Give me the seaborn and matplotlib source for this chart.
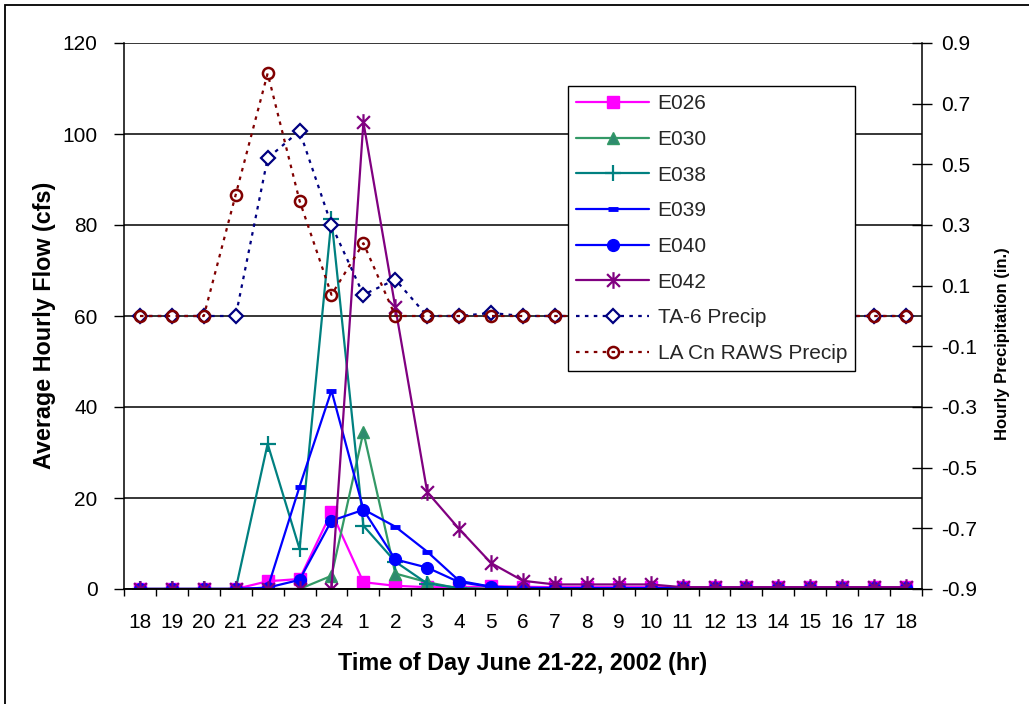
import numpy as np
import matplotlib
matplotlib.use("Agg")
import matplotlib.pyplot as plt
import seaborn as sns
from matplotlib.patches import Rectangle
from matplotlib.path import Path

hours = ["18", "19", "20", "21", "22", "23", "24", "1", "2", "3", "4", "5", "6",
         "7", "8", "9", "10", "11", "12", "13", "14", "15", "16", "17", "18"]

E026 = [0, 0, 0, 0, 1.7, 2.2, 16.9, 1.5, 0.7, 0.4, 0.4, 0.6, 0.5, 0.4, 0.4, 0.4,
        0.4, 0.4, 0.4, 0.4, 0.4, 0.4, 0.4, 0.4, 0.4]
E030 = [0, 0, 0, 0, 0, 0, 2.9, 34.5, 3.4, 1.5, 0.1, 0, 0, 0, 0, 0, 0, 0, 0, 0,
        0, 0, 0, 0, 0]
E038 = [0, 0, 0, 0, 31.9, 8.8, 81.3, 13.9, 6.0, 1.2, 0.2, 0, 0, 0, 0, 0, 0, 0,
        0, 0, 0, 0, 0, 0, 0]
E039 = [0, 0, 0, 0, 0.2, 22.5, 43.6, 17.5, 13.7, 8.2, 1.8, 0.5, 0.2, 0.2, 0.2,
        0.2, 0.2, 0.2, 0.2, 0.2, 0.2, 0.2, 0.2, 0.2, 0.2]
E040 = [0, 0, 0, 0, 0.3, 2.0, 15.0, 17.4, 6.5, 4.7, 1.5, 0.5, 0.3, 0.2, 0.2, 0.2,
        0.2, 0.2, 0.2, 0.2, 0.2, 0.2, 0.2, 0.2, 0.2]
E042 = [0, 0, 0, 0, 0, 0, 0, 102.6, 61.9, 21.3, 13.2, 5.7, 1.8, 1.0, 1.0, 1.0,
        1.0, 0.4, 0.4, 0.4, 0.4, 0.4, 0.4, 0.4, 0.4]
TA6 = [0, 0, 0, 0, 0.52, 0.61, 0.30, 0.07, 0.12, 0, 0, 0.01, 0, 0, 0, 0, 0, 0,
       0, 0, 0, 0, 0, 0, 0]
LACN = [0, 0, 0, 0.40, 0.80, 0.38, 0.07, 0.24, 0, 0, 0, 0, 0, 0, 0, 0, 0, 0,
        0, 0, 0, 0, 0, 0, 0]

left_ticks = [0, 20, 40, 60, 80, 100, 120]
right_ticks = [-0.9, -0.7, -0.5, -0.3, -0.1, 0.1, 0.3, 0.5, 0.7, 0.9]

sns.set_theme(style="white")
plt.rcParams["font.family"] = ["Liberation Sans", "DejaVu Sans"]

# Excel-style star marker: an "x" with a vertical bar
star_marker = Path([(-1, -1), (1, 1), (-1, 1), (1, -1), (0, -1.3), (0, 1.3)],
                   [Path.MOVETO, Path.LINETO, Path.MOVETO, Path.LINETO,
                    Path.MOVETO, Path.LINETO])

W, H = 1029, 704
fig = plt.figure(figsize=(W / 100, H / 100), dpi=100)
fig.patch.set_facecolor("white")
ax = fig.add_axes([124 / W, 1 - 589 / H, (922 - 124) / W, (589 - 43) / H])
ax2 = ax.twinx()

x = np.arange(len(hours))

flow_styles = [
    ("E026", E026, dict(color="#FF00FF", marker="s", markersize=8,
                        markeredgecolor="#FF00FF", markeredgewidth=1)),
    ("E030", E030, dict(color="#339966", marker="^", markersize=9,
                        markerfacecolor="#2E8B6E", markeredgecolor="#339966",
                        markeredgewidth=1)),
    ("E038", E038, dict(color="#008080", marker="+", markersize=11,
                        markeredgecolor="#008080", markeredgewidth=1.6)),
    ("E039", E039, dict(color="#0000FF", marker="_", markersize=7,
                        markeredgecolor="#0000FF", markeredgewidth=3.5)),
    ("E040", E040, dict(color="#0000FF", marker="o", markersize=8.5,
                        markeredgecolor="#0000FF", markeredgewidth=1)),
    ("E042", E042, dict(color="#800080", marker=star_marker, markersize=12,
                        markeredgecolor="#800080", markeredgewidth=1.6)),
]

for name, vals, kw in flow_styles:
    sns.lineplot(x=x, y=vals, ax=ax, sort=False, legend=False, linewidth=1.6,
                 label=name, **kw)

precip_styles = [
    ("TA-6 Precip", TA6, dict(color="#000080", marker="D", markersize=7,
                              markerfacecolor="white", markeredgecolor="#000080",
                              markeredgewidth=1.6)),
    ("LA Cn RAWS Precip", LACN, dict(color="#800000", marker="o", markersize=8,
                                     markerfacecolor="none",
                                     markeredgecolor="#800000",
                                     markeredgewidth=1.8)),
]
for name, vals, kw in precip_styles:
    sns.lineplot(x=x, y=vals, ax=ax2, sort=False, legend=False, linewidth=1.6,
                 label=name, **kw)
for ln in ax2.get_lines():
    ln.set_linestyle((0, (1.6, 2.4)))

# axes limits / ticks
ax.set_xlim(-0.5, len(hours) - 0.5)
ax.set_ylim(0, 120)
ax2.set_ylim(-0.9, 0.9)

ax.set_xticks(x)
ax.set_xticklabels(hours)
ax.set_xticks(np.arange(-0.5, len(hours), 1), minor=True)
ax.tick_params(axis="x", which="major", length=0, pad=17, labelsize=15,
               colors="black")
ax.tick_params(axis="x", which="minor", length=5, width=1, direction="out",
               colors="black", bottom=True)

ax.set_yticks(left_ticks)
ax.set_yticklabels([str(t) for t in left_ticks])
ax.tick_params(axis="y", which="major", length=7, width=1, direction="out",
               pad=12, labelsize=15, colors="black", left=True)

ax2.set_yticks(right_ticks)
ax2.set_yticklabels([f"{t:.1f}" for t in right_ticks])
ax2.tick_params(axis="y", which="major", length=14, width=1, direction="inout",
                pad=7, labelsize=15, colors="black", right=True)

ax.yaxis.grid(True, color="black", linewidth=1.1)
ax.set_axisbelow(True)

for a in (ax, ax2):
    a.spines["top"].set_visible(False)
    for s in ("left", "right", "bottom"):
        a.spines[s].set_color("black")
        a.spines[s].set_linewidth(1.1)
ax2.spines["left"].set_visible(False)
ax.spines["right"].set_visible(False)

ax.set_xlabel("Time of Day June 21-22, 2002 (hr)", fontsize=16.8,
              fontweight="bold", labelpad=15, color="black")
fig.text(45 / W, 1 - 325 / H, "Average Hourly Flow (cfs)", fontsize=16.8,
         fontweight="bold", rotation=90, ha="center", va="center",
         color="black")
fig.text(1003 / W, 1 - 344 / H, "Hourly Precipitation (in.)", fontsize=12,
         fontweight="bold", rotation=90, ha="center", va="center",
         color="black")

handles = ax.get_lines() + ax2.get_lines()
handles = [h for h in handles if not h.get_label().startswith("_")]
leg = ax2.legend(handles=handles, loc="upper left",
                 bbox_to_anchor=((568 - 124) / 798, (589 - 86) / 546),
                 borderaxespad=0, frameon=True, fancybox=False, shadow=False,
                 framealpha=1, edgecolor="black", fontsize=15,
                 handlelength=3.5, handletextpad=0.4, labelspacing=0.8,
                 borderpad=0.4, numpoints=1)
leg.get_frame().set_linewidth(1.0)

# outer chart-area border
fig.patches.append(Rectangle((5 / W, -0.1), 2.0, 1.1 - 5 / H,
                             transform=fig.transFigure, fill=False,
                             edgecolor="black", linewidth=1.3))

fig.savefig("out.png", dpi=100)
